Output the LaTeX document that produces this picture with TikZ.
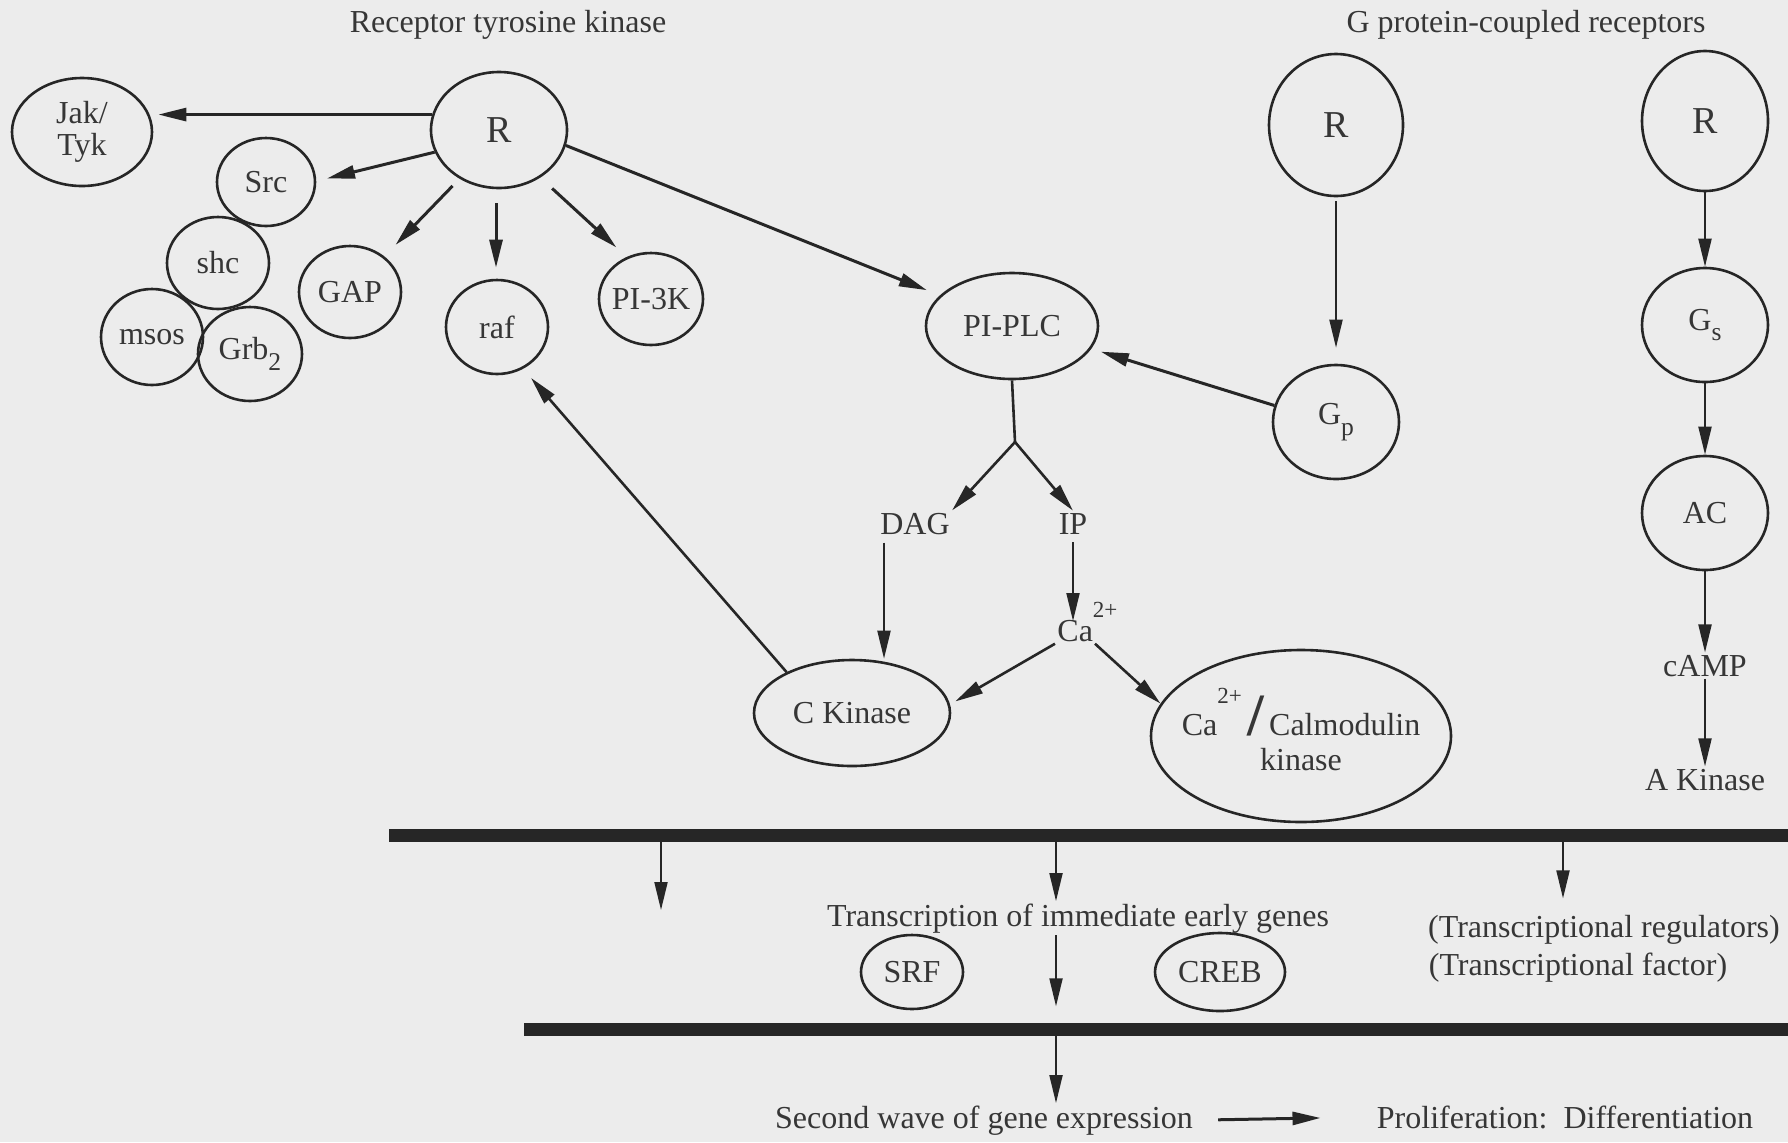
\documentclass[tikz,border=0pt]{standalone}
\usepackage{fontspec}
\setmainfont{Liberation Serif}
\usetikzlibrary{arrows.meta,shapes.geometric,calc}
\definecolor{paper}{HTML}{ECECEC}
\definecolor{ink}{HTML}{262626}
\definecolor{txt}{HTML}{363636}
% lowered / raised indices that keep a large size, as in the printed labels
\newcommand\lowidx[1]{\raisebox{-0.32em}{\scalebox{0.8}{#1}}}
\newcommand\highidx[2]{\raisebox{#1}{\scalebox{0.72}{#2}}}
\tikzset{
  blob/.style={ellipse, draw=ink, line width=1.3pt, inner xsep=-4pt, inner ysep=0pt, text=txt,
    font=\fontsize{16pt}{16pt}\selectfont},
  lbl/.style={text=txt, inner sep=1pt, font=\fontsize{16pt}{17.5pt}\selectfont},
  head/.style={lbl, anchor=base},
  bigR/.style={blob, font=\fontsize{19pt}{21pt}\selectfont},
  arr/.style={-{Triangle[length=14pt,width=6.5pt]}, draw=ink, line width=1.5pt},
  thinarr/.style={arr, line width=1pt},
  bar/.style={draw=ink, line width=6.5pt},
}
\begin{document}
\begin{tikzpicture}[x=0.5pt,y=-0.5pt]
\fill[paper] (0,0) rectangle (1788,1142);
\useasboundingbox (0,0) rectangle (1788,1142);

% ---- headings
\node[head] (hrtk) at (508,32) {Receptor tyrosine kinase};
\node[head] (hgpcr) at (1526,32) {G protein-coupled receptors};

% ---- receptor tyrosine kinase cluster
\node[blob, minimum width=70pt, minimum height=54pt, align=center] (jak) at (82,132) {Jak/\\Tyk};
\node[bigR, minimum width=68pt, minimum height=58pt] (rr) at (499,130) {R};
\node[blob, minimum width=49pt, minimum height=44pt] (src) at (266,182) {Src};
\node[blob, minimum width=51pt, minimum height=46pt] (shc) at (218,263) {shc};
\node[blob, minimum width=51pt, minimum height=48pt] (msos) at (152,337) {msos};
\node[blob, minimum width=52pt, minimum height=47pt] (grb) at (250,354) {Grb\lowidx{2}};
\node[blob, minimum width=51pt, minimum height=46pt] (gap) at (350,292) {GAP};
\node[blob, minimum width=51pt, minimum height=47pt] (raf) at (497,327) {raf};
\node[blob, minimum width=52pt, minimum height=46pt] (pik) at (651,299) {PI-3K};

% ---- phospholipase branch
\node[blob, minimum width=86pt, minimum height=53pt] (plc) at (1012,326) {PI-PLC};
\node[lbl, anchor=base] (dag) at (915,534) {DAG};
\node[lbl, anchor=base] (ip) at (1073,534) {IP};
\node[lbl, anchor=base west] (ca) at (1055,641) {Ca\highidx{0.72em}{2+}};
\node[blob, minimum width=98pt, minimum height=53pt] (ckin) at (852,713) {C Kinase};
\node[blob, minimum width=150pt, minimum height=86pt, inner xsep=-15pt, align=center,
  font=\fontsize{16pt}{17.5pt}\selectfont] (calm) at (1301,736)
  {Ca\highidx{1em}{2+}\,\smash{\bfseries\fontsize{30pt}{30pt}\selectfont /}\,Calmodulin\\kinase\rule[-7pt]{0pt}{0pt}};

% ---- G protein-coupled receptors
\node[bigR, minimum width=67pt, minimum height=71pt] (r1) at (1336,125) {R};
\node[blob, minimum width=63pt, minimum height=57pt] (gp) at (1336,422) {G\lowidx{p}};
\node[bigR, minimum width=63pt, minimum height=70pt] (r2) at (1705,121) {R};
\node[blob, minimum width=63pt, minimum height=57pt] (gs) at (1705,325) {G\lowidx{s}};
\node[blob, minimum width=63pt, minimum height=57pt] (ac) at (1705,513) {AC};
\node[lbl, anchor=base] (camp) at (1705,676) {cAMP};
\node[lbl, anchor=base] (akin) at (1705,790) {A Kinase};

% ---- nuclear events
\node[lbl, anchor=base] (trans) at (1078,926) {Transcription of immediate early genes};
\node[lbl, anchor=base] (reg) at (1604,937) {(Transcriptional regulators)};
\node[lbl, anchor=base] (fac) at (1578,975) {(Transcriptional factor)};
\node[blob, minimum width=51pt, minimum height=37pt] (srf) at (912,972) {SRF};
\node[blob, minimum width=65pt, minimum height=39pt] (creb) at (1220,972) {CREB};
\node[lbl, anchor=base] (wave) at (984,1128) {Second wave of gene expression};
\node[lbl, anchor=base] (prolif) at (1565,1128) {Proliferation:\ \ Differentiation};

% ---- membranes drawn as heavy bars
\coordinate (b1l) at (389,835);
\coordinate (b1r) at (1788,835);
\coordinate (b2l) at (524,1029);
\coordinate (b2r) at (1788,1029);
\draw[bar] (b1l) -- (b1r);
\draw[bar] (b2l) -- (b2r);

% ---- arrows of the receptor tyrosine kinase
\draw[arr, shorten >=2.5pt] (rr.167) -- (rr.167 -| jak.east);
\draw[arr, shorten >=5.5pt] (rr.199) -- (src.1);
\draw[arr, shorten <=5pt, shorten >=8pt] (rr.231) -- (gap.46);
\draw[arr, shorten <=7pt, shorten >=5.5pt] ([xshift=-1.5pt]rr.south) -- ([xshift=-1.5pt]rr.south |- raf.north);
\draw[arr, shorten <=8pt, shorten >=7pt] (rr.-49) -- (pik.120);
\draw[arr, shorten >=7pt] (rr.-13) -- (plc.157);
\draw[arr, line width=1.3pt, shorten >=6pt] (ckin.148) -- (raf.-58);

% ---- phospholipase pathway
\coordinate (fork) at (1015,442);
\draw[ink, line width=1.3pt] (plc.south) -- (fork);
\draw[arr, line width=1.3pt] (fork) -- (dag.north east);
\draw[arr, line width=1.3pt] (fork) -- (ip.north);
\draw[thinarr, shorten <=3pt] ([xshift=-15.5pt]dag.south) -- ([xshift=-15.5pt]dag.south |- ckin.north);
\draw[thinarr, shorten <=3pt, shorten >=10pt] (ip.south) -- (ip.south |- ca.base);
\draw[arr, line width=1.3pt, shorten >=3pt] (ca.south west) -- (ckin.5);
\draw[arr, line width=1.3pt] ([xshift=20pt]ca.south west) -- (calm.167);
\draw[thinarr, shorten <=2pt, shorten >=8pt] (r1) -- (gp);
\draw[arr, shorten >=5pt] (gp.165) -- (plc.-16.5);

% ---- adenylate cyclase pathway
\draw[thinarr] (r2) -- (gs);
\draw[thinarr] (gs) -- (ac);
\draw[thinarr] (ac) -- (camp);
\draw[thinarr] (camp) -- (akin);

% ---- from the cytoplasm to the nucleus
\coordinate (dl) at (661,910);
\coordinate (dm) at (1056,835);
\coordinate (dr) at (1563,835);
\draw[thinarr] (dl |- b1l) -- (dl);
\draw[thinarr] (dm) -- (dm |- trans.north);
\draw[thinarr, shorten >=2pt] (dm |- trans.south) -- (dm |- srf.south);
\draw[thinarr] (dm |- b2l) -- (dm |- wave.north);
\draw[thinarr, shorten >=7pt] (dr) -- (dr |- reg.north);
\draw[arr, shorten <=11.5pt, shorten >=27pt] (wave.east) -- (prolif.west);
\end{tikzpicture}
\end{document}
